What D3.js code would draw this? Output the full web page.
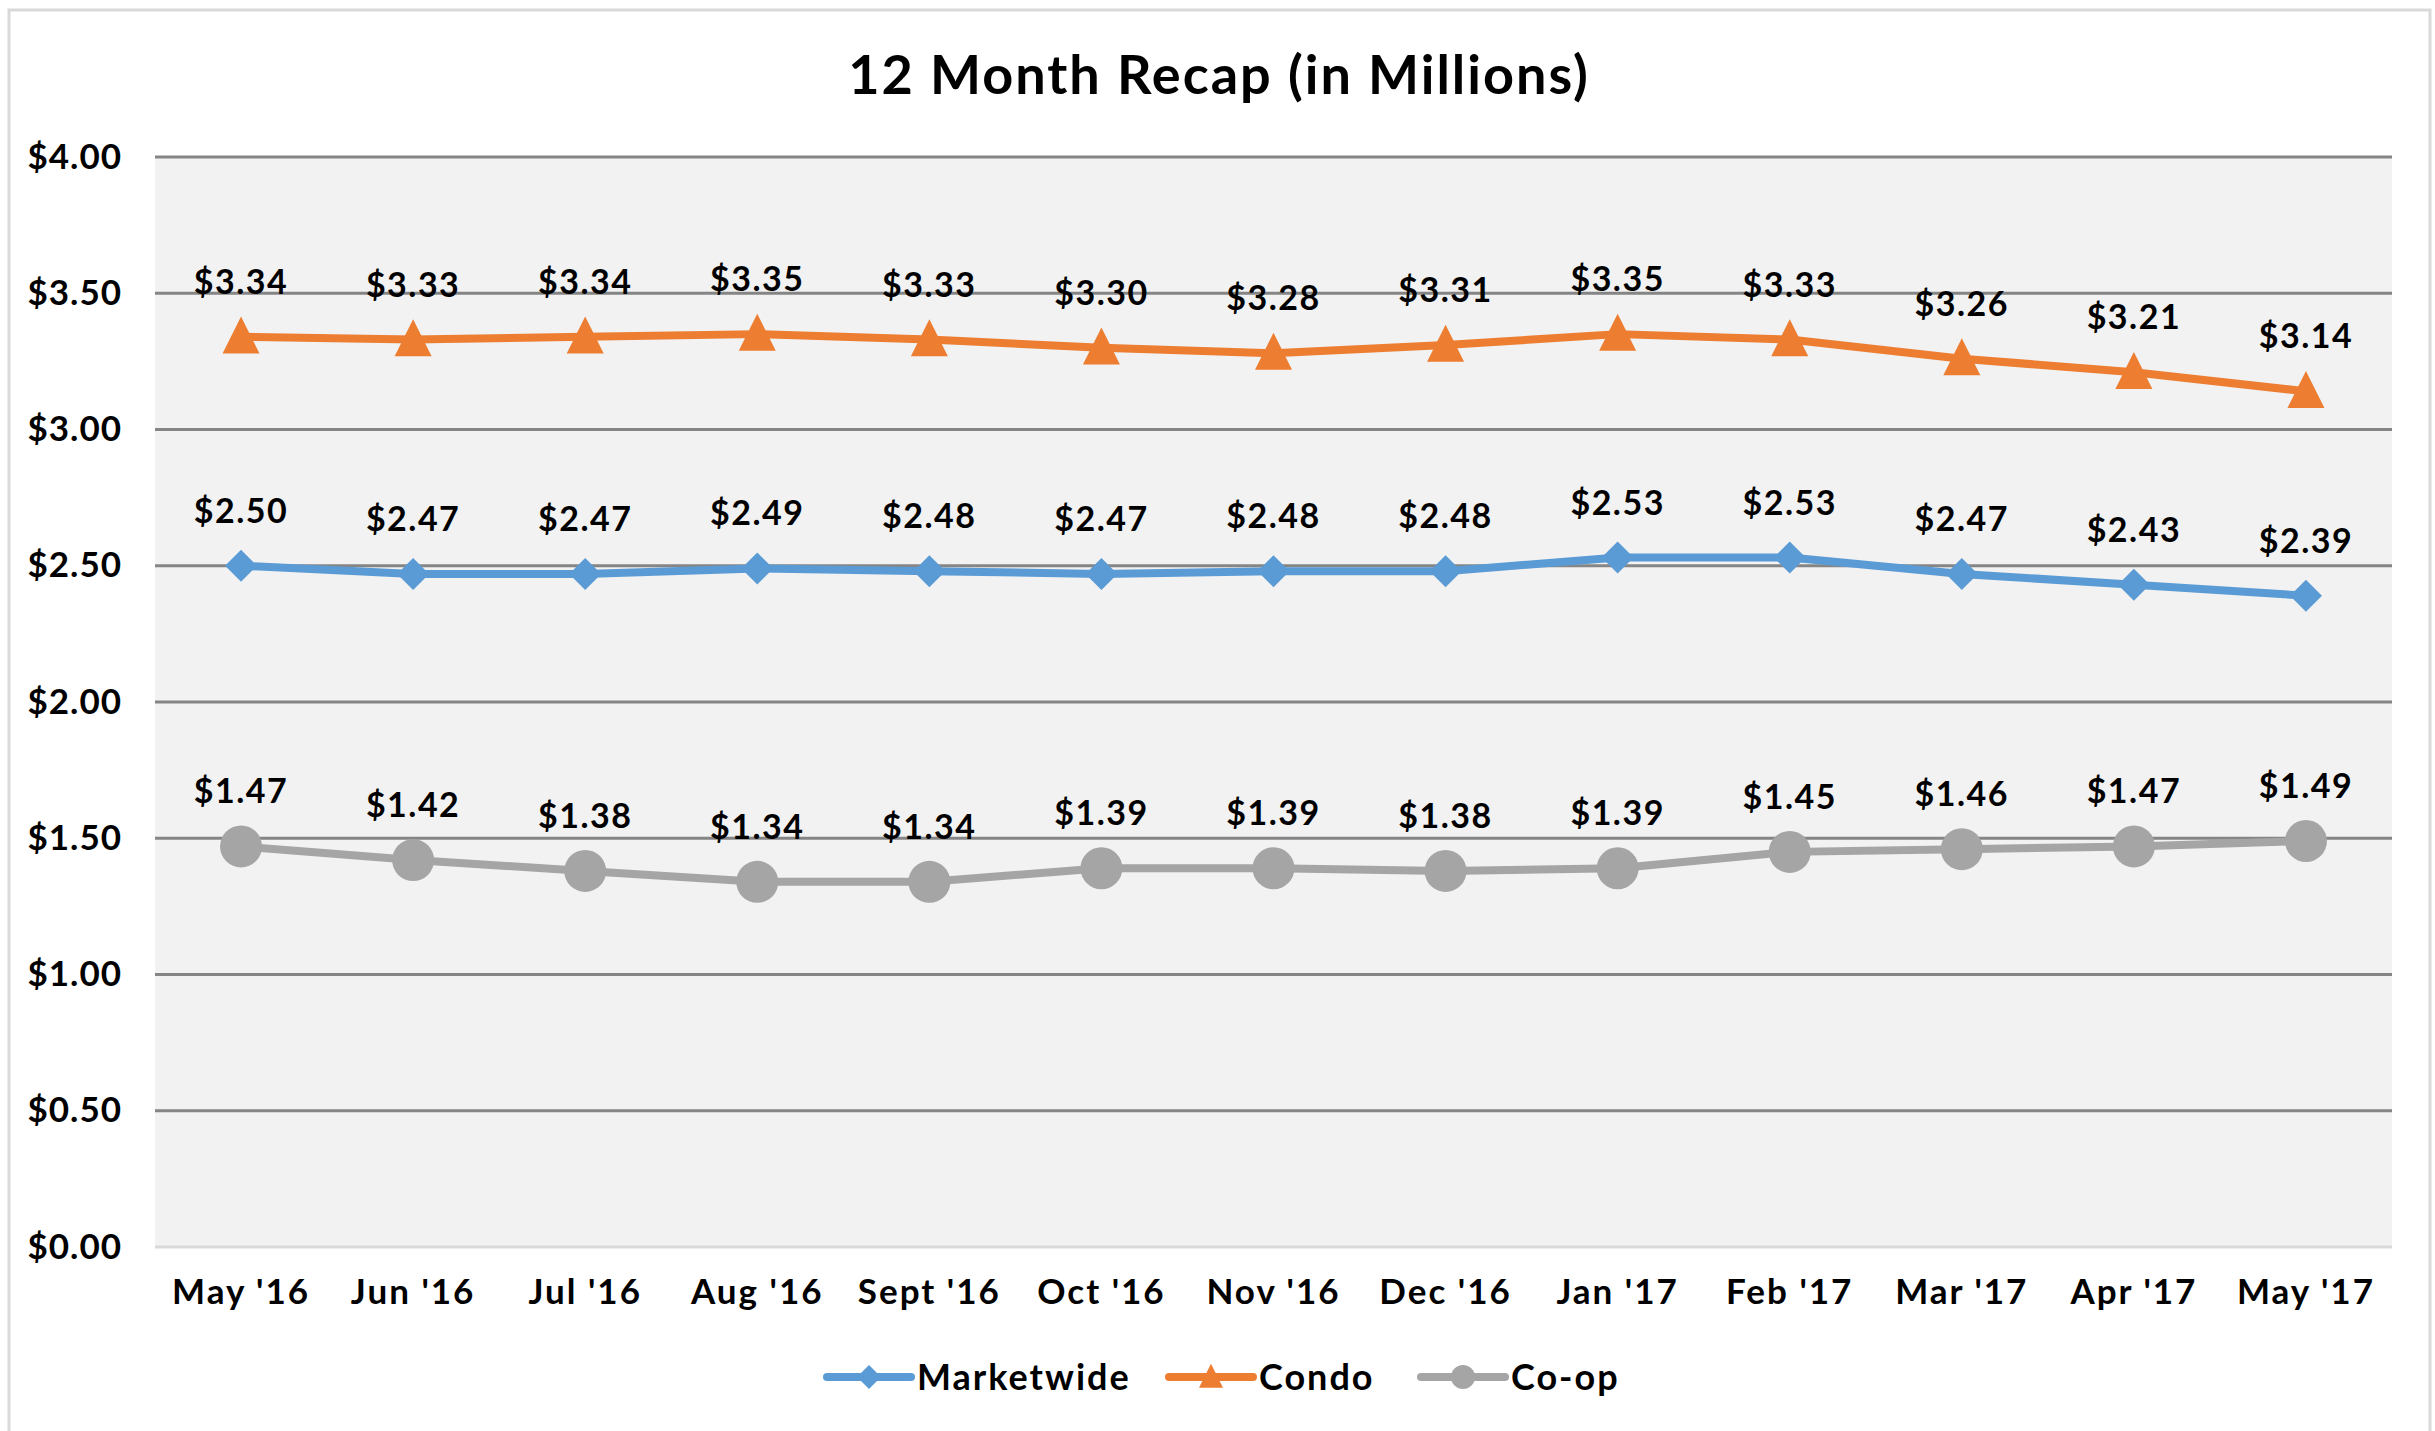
<!DOCTYPE html>
<html>
<head>
<meta charset="utf-8">
<script src="https://cdn.jsdelivr.net/npm/d3@7"></script>
<style>
  body { margin: 0; background: #fff; }
  text { font-family: "Lato", "DejaVu Sans", sans-serif; font-weight: bold; fill: #000; }
</style>
</head>
<body>
<div id="chart-area"></div>
<script>
// data
var months = ["May '16", "Jun '16", "Jul '16", "Aug '16", "Sept '16", "Oct '16", "Nov '16",
    "Dec '16", "Jan '17", "Feb '17", "Mar '17", "Apr '17", "May '17"];
var marketwide = [2.50, 2.47, 2.47, 2.49, 2.48, 2.47, 2.48, 2.48, 2.53, 2.53, 2.47, 2.43, 2.39];
var condo = [3.34, 3.33, 3.34, 3.35, 3.33, 3.30, 3.28, 3.31, 3.35, 3.33, 3.26, 3.21, 3.14];
var coop = [1.47, 1.42, 1.38, 1.34, 1.34, 1.39, 1.39, 1.38, 1.39, 1.45, 1.46, 1.47, 1.49];
var yTicks = [0, 0.5, 1, 1.5, 2, 2.5, 3, 3.5, 4];

var series = [
    { name: "Marketwide", values: marketwide, color: "#5B9BD5", shape: "diamond" },
    { name: "Condo", values: condo, color: "#ED7D31", shape: "triangle" },
    { name: "Co-op", values: coop, color: "#A5A5A5", shape: "circle" }
];

var W = 2435, H = 1431;
var margin = { left: 155, right: 43, top: 157, bottom: 184 };
var width = W - margin.left - margin.right;
var height = H - margin.top - margin.bottom;

var svg = d3.select("#chart-area").append("svg")
    .attr("width", W)
    .attr("height", H);

// outer chart border
svg.append("rect")
    .attr("x", 9).attr("y", 10)
    .attr("width", 2421).attr("height", 1440)
    .attr("fill", "#fff")
    .attr("stroke", "#D9D9D9")
    .attr("stroke-width", 3);

svg.append("text")
    .attr("x", 1219)
    .attr("y", 94)
    .attr("text-anchor", "middle")
    .attr("font-size", "54px")
    .attr("letter-spacing", "2px")
    .text("12 Month Recap (in Millions)");

var g = svg.append("g")
    .attr("transform", "translate(" + margin.left + ", " + margin.top + ")");

var x = d3.scaleBand()
    .domain(months)
    .range([0, width])
    .paddingInner(0)
    .paddingOuter(0);
var y = d3.scaleLinear()
    .domain([0, 4])
    .range([height, 0]);
var cx = function (i) { return x(months[i]) + x.bandwidth() / 2; };

g.append("rect")
    .attr("width", width)
    .attr("height", height)
    .attr("fill", "#F2F2F2");

// gridlines
g.selectAll(".grid").data(yTicks).enter()
    .append("line")
    .attr("class", "grid")
    .attr("x1", 0).attr("x2", width)
    .attr("y1", (d) => y(d)).attr("y2", (d) => y(d))
    .attr("stroke", (d) => d === 0 ? "#D9D9D9" : "#858585")
    .attr("stroke-width", 3);

// y axis
var yAxis = d3.axisLeft(y)
    .tickValues(yTicks)
    .tickSize(0)
    .tickPadding(33)
    .tickFormat((d) => "$" + d3.format(".2f")(d));
var yaxg = g.append("g").attr("class", "y-axis").call(yAxis);
yaxg.select(".domain").remove();
yaxg.selectAll("text").attr("font-size", "35px").attr("letter-spacing", "1px").attr("font-family", null);

// x axis
var xAxis = d3.axisBottom(x).tickSize(0).tickPadding(32);
var xaxg = g.append("g")
    .attr("class", "x-axis")
    .attr("transform", "translate(0, " + height + ")")
    .call(xAxis);
xaxg.select(".domain").remove();
xaxg.selectAll("text").attr("font-size", "35px").attr("letter-spacing", "2px").attr("font-family", null);

function marker(sel, shape, color, s) {
    if (shape === "circle") {
        sel.append("circle").attr("r", s / 2).attr("fill", color);
    } else if (shape === "triangle") {
        sel.append("path")
            .attr("d", "M0," + (-s * 0.55) + "L" + (s * 0.5) + "," + (s * 0.45) + "L" + (-s * 0.5) + "," + (s * 0.45) + "Z")
            .attr("fill", color);
    } else {
        sel.append("path")
            .attr("d", "M0," + (-s / 2) + "L" + (s / 2) + ",0L0," + (s / 2) + "L" + (-s / 2) + ",0Z")
            .attr("fill", color);
    }
}

var line = d3.line()
    .x((d, i) => cx(i))
    .y((d) => y(d));

series.forEach(function (s) {
    var sg = g.append("g");
    sg.append("path")
        .datum(s.values)
        .attr("d", line)
        .attr("fill", "none")
        .attr("stroke", s.color)
        .attr("stroke-width", 8)
        .attr("stroke-linejoin", "round");
    s.values.forEach(function (v, i) {
        var m = sg.append("g").attr("transform", "translate(" + cx(i) + "," + y(v) + ")");
        marker(m, s.shape, s.color, s.shape === "circle" ? 42 : s.shape === "triangle" ? 37 : 32);
    });
    sg.selectAll(".lbl").data(s.values).enter()
        .append("text")
        .attr("class", "lbl")
        .attr("x", (d, i) => cx(i))
        .attr("y", (d) => y(d) - 43)
        .attr("text-anchor", "middle")
        .attr("font-size", "34px")
        .attr("letter-spacing", "1.5px")
        .text((d) => "$" + d.toFixed(2));
});

// legend
var legendX = [827, 1169, 1421];
series.forEach(function (s, i) {
    var lg = svg.append("g").attr("transform", "translate(" + legendX[i] + ", 1377)");
    lg.append("line")
        .attr("x1", 0).attr("x2", 84)
        .attr("stroke", s.color)
        .attr("stroke-width", 8)
        .attr("stroke-linecap", "round");
    var m = lg.append("g").attr("transform", "translate(42,0)");
    marker(m, s.shape, s.color, 24);
    lg.append("text")
        .attr("x", 90)
        .attr("y", 13)
        .attr("font-size", "36px")
        .attr("letter-spacing", "2px")
        .text(s.name);
});
</script>
</body>
</html>
